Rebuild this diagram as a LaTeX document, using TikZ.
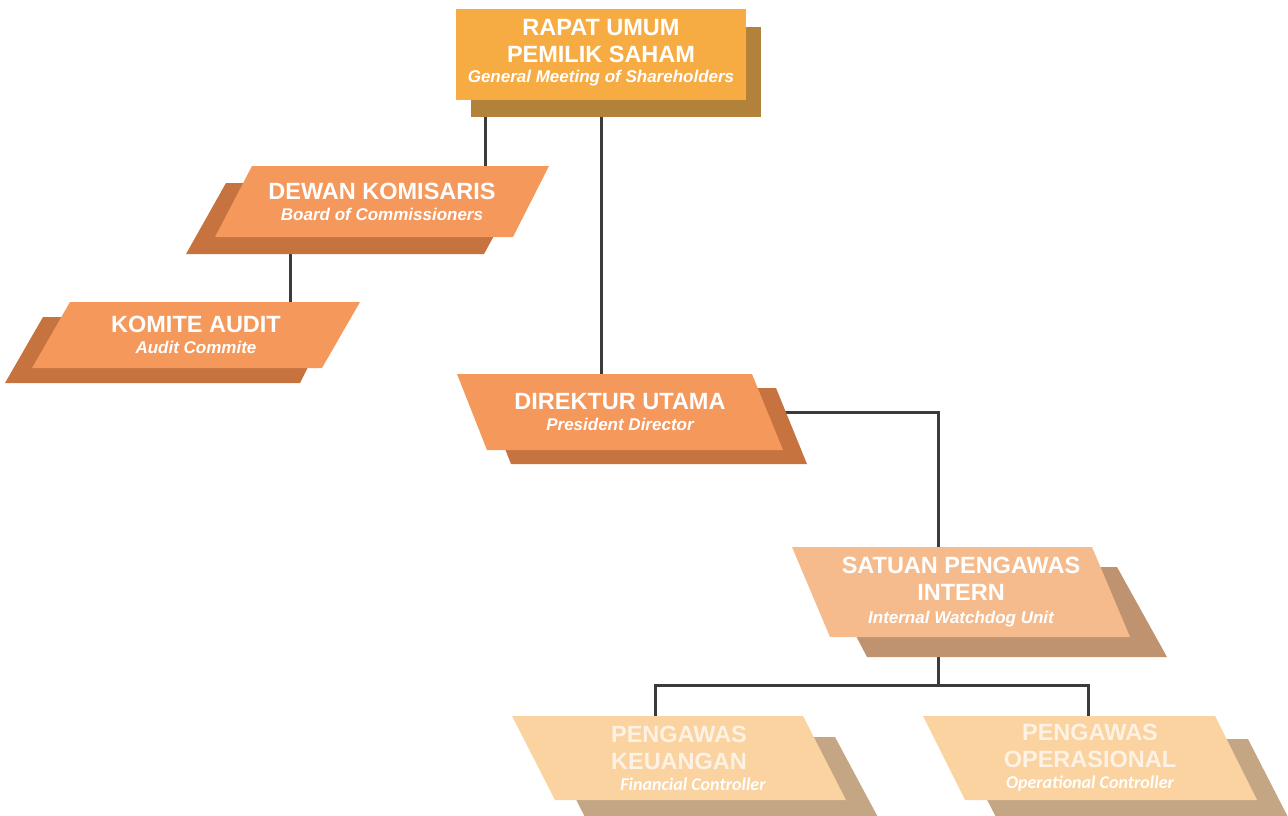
\documentclass[tikz,border=0pt]{standalone}
\usepackage{fontspec}
\setmainfont{Liberation Sans}
\newfontfamily\carlito{Carlito}
\usetikzlibrary{backgrounds}

\definecolor{rupsfill}{HTML}{F7AC43}
\definecolor{rupsshade}{HTML}{B3823A}
\definecolor{boardfill}{HTML}{F5985C}
\definecolor{boardshade}{HTML}{C6733F}
\definecolor{spifill}{HTML}{F6BB8C}
\definecolor{spishade}{HTML}{BF9370}
\definecolor{ctrlfill}{HTML}{FAD3A0}
\definecolor{ctrlshade}{HTML}{C4A685}
\definecolor{ctrltext}{HTML}{FDF2E4}
\definecolor{linegray}{HTML}{3B3B3B}

\newcommand\engname[1]{{\fontsize{17}{20}\selectfont\itshape #1}}
\newcommand\ctrlname[1]{{\carlito\fontsize{18}{20}\selectfont\itshape\color{white}#1}}

\tikzset{
  boxtext/.style={align=center, text=white, inner sep=0pt,
    font=\fontsize{23.5}{27}\selectfont\bfseries},
  link/.style={draw=linegray, line width=3pt}
}

\begin{document}
\begin{tikzpicture}[x=1pt, y=-1pt]
\useasboundingbox (0,0) rectangle (1288,816);

% rapat umum
\fill[rupsshade] (471,27) rectangle (761,117);
\fill[rupsfill] (456,9) rectangle (746,100);
\node[boxtext, minimum width=290pt, minimum height=91pt] (rups) at (601,53)
  {RAPAT UMUM\\PEMILIK SAHAM\\[-7pt]\engname{General Meeting of Shareholders}};

% dewan komisaris
\fill[boardshade] (226,183) -- (523,183) -- (484,254) -- (186,254) -- cycle;
\fill[boardfill] (252,166) -- (549,166) -- (513,237) -- (215,237) -- cycle;
\node[boxtext, minimum width=297pt, minimum height=71pt] (dk) at (382,201.5)
  {DEWAN KOMISARIS\\[-6pt]\engname{Board of Commissioners}};

% komite audit
\fill[boardshade] (43,317) -- (333,317) -- (300,383) -- (5,383) -- cycle;
\fill[boardfill] (70,302) -- (360,302) -- (322,368) -- (32,368) -- cycle;
\node[boxtext, minimum width=290pt, minimum height=66pt] (ka) at (196,335)
  {KOMITE AUDIT\\[-6pt]\engname{Audit Commite}};

% direktur utama
\fill[boardshade] (481,388) -- (776,388) -- (807,464) -- (511,464) -- cycle;
\fill[boardfill] (457,374) -- (752,374) -- (783,450) -- (487,450) -- cycle;
\node[boxtext, minimum width=295pt, minimum height=76pt] (du) at (620,412)
  {DIREKTUR UTAMA\\[-6pt]\engname{President Director}};

% satuan pengawas intern
\fill[spishade] (820,567) -- (1117,567) -- (1167,657) -- (867,657) -- cycle;
\fill[spifill] (792,547) -- (1092,547) -- (1130,637) -- (830,637) -- cycle;
\node[boxtext, minimum width=300pt, minimum height=90pt] (spi) at (961,592)
  {SATUAN PENGAWAS\\INTERN\\[-4pt]\engname{Internal Watchdog Unit}};

% pengawas
\fill[ctrlshade] (544,737) -- (835,737) -- (880,821) -- (587,821) -- cycle;
\fill[ctrlfill] (512,716) -- (803,716) -- (846,800) -- (555,800) -- cycle;
\node[boxtext, text=ctrltext, minimum width=291pt, minimum height=84pt] (pk) at (679,758)
  {PENGAWAS\\KEUANGAN\\[-6pt]\hspace*{28pt}\ctrlname{Financial Controller}};

\fill[ctrlshade] (956,739) -- (1248,739) -- (1291,823) -- (999,823) -- cycle;
\fill[ctrlfill] (923,716) -- (1215,716) -- (1257,800) -- (965,800) -- cycle;
\node[boxtext, text=ctrltext, minimum width=292pt, minimum height=84pt] (po) at (1090,758)
  {PENGAWAS\\OPERASIONAL\\[-6pt]\ctrlname{Operational Controller}};

\coordinate (rupsleft) at ([xshift=-116pt]rups.south);
\coordinate (dkdown) at ([xshift=-92pt]dk.south);
\coordinate (spiin) at ([xshift=-23pt]spi.north);
\coordinate (spiout) at ([xshift=-23pt]spi.south);
\coordinate (split) at ([yshift=-48pt]spiout);
\coordinate (pkin) at ([xshift=-23.5pt]pk.north);
\coordinate (poin) at ([xshift=-2pt]po.north);

\begin{scope}[on background layer]
\draw[link] (rupsleft) -- (rupsleft |- dk.north);
\draw[link] (rups.south) -- (rups.south |- du.north);
\draw[link] (dkdown) -- (dkdown |- ka.north);
\draw[link] (du.east) -| (spiin);
\draw[link] (spiout) -- (split);
\draw[link] (split) -| (pkin);
\draw[link] (split) -| (poin);
\end{scope}
\end{tikzpicture}
\end{document}
